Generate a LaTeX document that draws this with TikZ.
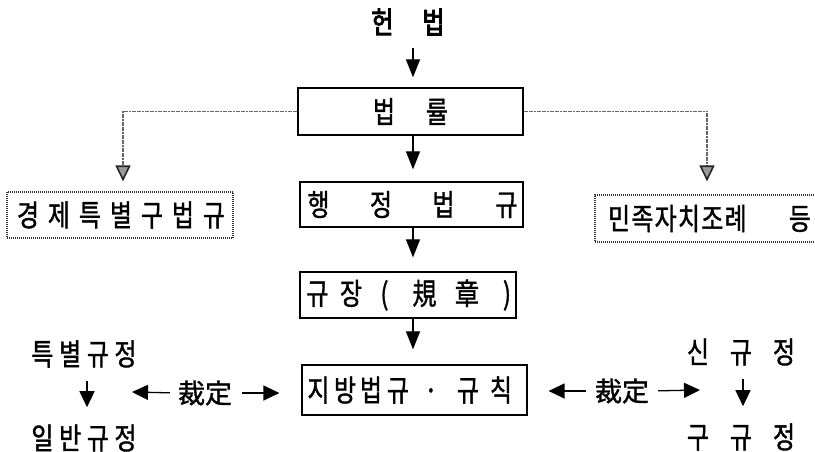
\documentclass[tikz,border=0pt]{standalone}
\usepackage{fontspec}
\setmainfont{Noto Sans CJK KR}[FakeStretch=0.8,FakeBold=1.2]
\newfontfamily\krwide{Noto Sans CJK KR}[FakeBold=1.2]
\newfontfamily\krbold{Noto Sans CJK KR}[FakeStretch=0.8,FakeBold=3]
\usetikzlibrary{arrows.meta}
\newcommand\cl[2]{\makebox[#1pt]{#2}}
\begin{document}
\begin{tikzpicture}[x=1pt,y=-1pt,
  txt/.style={font=\fontsize{30}{32}\selectfont, inner sep=0pt},
  boldtxt/.style={font=\krbold\fontsize{30}{32}\selectfont, inner sep=0pt},
  kanji/.style={font=\krwide\fontsize{27}{29}\selectfont, inner sep=0pt},
  solidbox/.style={draw, line width=1.2pt, inner sep=0pt, font=\fontsize{30}{32}\selectfont},
  dotbox/.style={draw=black!80, line width=1.1pt, dash pattern=on 1pt off 1pt, inner sep=0pt, font=\fontsize{30}{32}\selectfont},
  flow/.style={line width=1.1pt, -{Triangle[width=14pt,length=18pt]}},
  side/.style={draw=black!60, line width=1.6pt, dash pattern=on 2pt off 0.6pt, -{Triangle[width=15pt,length=16pt,fill=black!40,color=black!85]}},
  cut/.style={line width=1.3pt, -{Triangle[width=15pt,length=16pt]}}]
\useasboundingbox (0,0) rectangle (815,452);
\clip (0,0) rectangle (815,452);

\coordinate (ax) at (413,0);
\coordinate (lx) at (123,0);
\coordinate (rx) at (707,0);
\coordinate (lt) at (132,392);
\coordinate (rt) at (700,390);

\node[boldtxt] (hun) at (408,22) {\cl{51}{헌}\cl{51}{법}};
\node[solidbox, minimum width=225pt, minimum height=47pt] (law) at (410.5,111.5)
  {\makebox[0pt]{\cl{53}{법}\cl{53}{률}}};
\node[solidbox, minimum width=223pt, minimum height=45pt] (adm) at (411.5,204.5)
  {\makebox[0pt]{\hspace{2pt}\cl{63}{행}\cl{62}{정}\cl{63}{법}\cl{63}{규}}};
\node[solidbox, minimum width=216pt, minimum height=46pt] (reg) at (408,295)
  {\makebox[0pt]{\hspace{10pt}\cl{36}{규}\cl{31}{장}\cl{36}{(}\cl{44}{規}\cl{41}{章}\cl{39}{)}}};
\node[solidbox, minimum width=225pt, minimum height=50pt] (loc) at (414.5,390)
  {\makebox[0pt]{\hspace{-8pt}\cl{27}{지}\cl{26}{방}\cl{26}{법}\cl{28}{규}\cl{38}{·}\cl{36}{규}\cl{30}{칙}}};
\node[dotbox, minimum width=226pt, minimum height=46pt] (eco) at (120,215)
  {\makebox[0pt]{\hspace{2pt}\cl{31}{경}\cl{31}{제}\cl{31}{특}\cl{31}{별}\cl{31}{구}\cl{31}{법}\cl{31}{규}}};
\node[dotbox, minimum width=223pt, minimum height=47pt] (eth) at (706.5,218.5)
  {\makebox[0pt]{\hspace{6pt}\cl{23.3}{민}\cl{23.3}{족}\cl{23.3}{자}\cl{23.3}{치}\cl{23.3}{조}\cl{23.3}{례}\hspace{41pt}\cl{23.3}{등}}};

\node[txt] (sp) at (84,354) {\cl{27.7}{특}\cl{27.7}{별}\cl{27.7}{규}\cl{27.7}{정}};
\node[txt] (gen) at (84,438) {\cl{27.7}{일}\cl{27.7}{반}\cl{27.7}{규}\cl{27.7}{정}};
\node[txt] (new) at (741,352) {\cl{43}{신}\cl{43}{규}\cl{43}{정}};
\node[txt] (old) at (741,437) {\cl{43}{구}\cl{43}{규}\cl{43}{정}};
\node[kanji] (j1) at (205,393) {裁定};
\node[kanji] (j2) at (622,391) {裁定};

\draw[flow, shorten <=12pt, shorten >=10pt] (hun.south -| ax) -- (law.north -| ax);
\draw[flow, shorten >=12pt] (law.south -| ax) -- (adm.north -| ax);
\draw[flow, shorten >=14pt] (adm.south -| ax) -- (reg.north -| ax);
\draw[flow, shorten >=15pt] (reg.south -| ax) -- (loc.north -| ax);

\draw[side, shorten >=10pt] (law.west) -| (eco.north -| lx);
\draw[side, shorten >=13pt] (law.east) -| (eth.north -| rx);

\draw[cut, shorten <=8pt] (j1.west) -- (lt);
\draw[cut, shorten <=10pt, shorten >=22pt] (j1.east) -- (loc.west |- j1.east);
\draw[cut, shorten <=9pt, shorten >=21pt] (j2.west) -- (loc.east |- j2.west);
\draw[cut, shorten <=9pt] (j2.east) -- (rt);

\draw[cut, shorten <=13pt, shorten >=17pt] ([xshift=3pt]sp.south) -- ([xshift=3pt]gen.north);
\draw[cut, shorten <=13pt, shorten >=17pt] ([xshift=2pt]new.south) -- ([xshift=2pt]old.north);
\end{tikzpicture}
\end{document}
